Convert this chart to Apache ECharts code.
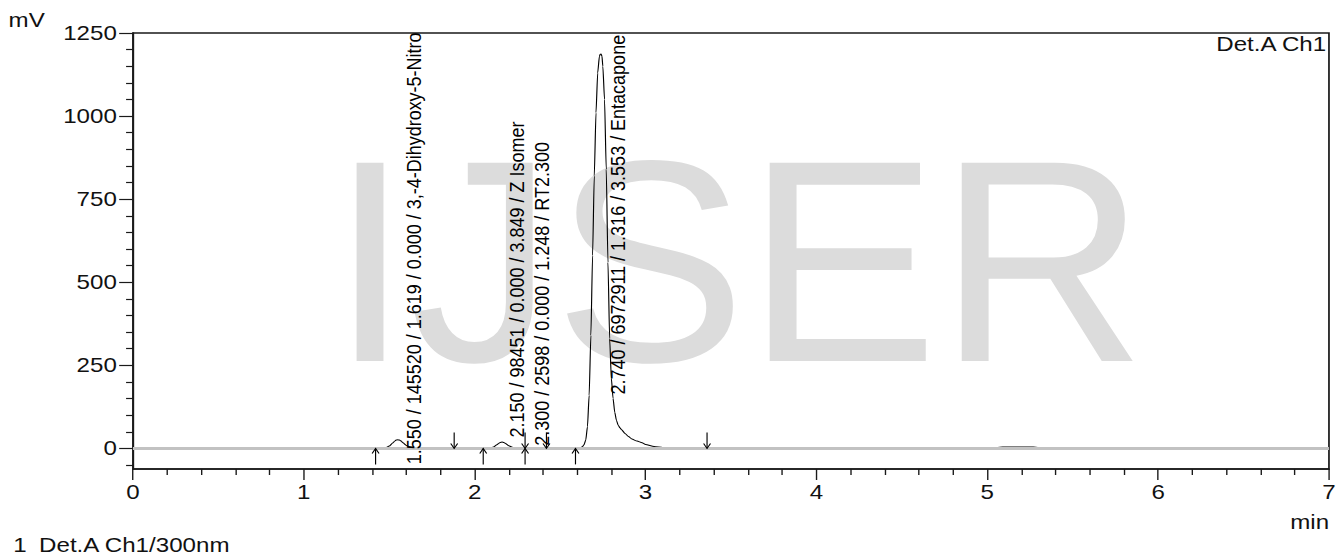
<!DOCTYPE html>
<html>
<head>
<meta charset="utf-8">
<script src="https://cdn.jsdelivr.net/npm/echarts@6.0.0/dist/echarts.min.js"></script>
<style>
html,body{margin:0;padding:0;background:#fff;overflow:hidden;}
#c{width:1166px;height:558px;transform:scaleX(1.149228);transform-origin:0 0;}
</style>
</head>
<body>
<div id="c"></div>
<script>
// ---- data ----
const retentionTimes = [0, 1.40, 1.43, 1.46, 1.48, 1.50, 1.52, 1.53, 1.54, 1.55, 1.56, 1.57, 1.58, 1.60, 1.62, 1.64, 1.67, 1.70,
  2.00, 2.06, 2.09, 2.11, 2.13, 2.14, 2.15, 2.16, 2.17, 2.18, 2.20, 2.22, 2.25, 2.28, 2.29, 2.30, 2.31, 2.33, 2.36, 2.50, 2.58,
  2.60, 2.62, 2.63, 2.64, 2.65, 2.66, 2.67, 2.68, 2.69, 2.70, 2.71, 2.72, 2.73, 2.735, 2.74, 2.745, 2.75, 2.76, 2.77, 2.78,
  2.79, 2.80, 2.81, 2.82, 2.83, 2.84, 2.85, 2.86, 2.88, 2.90, 2.92, 2.95, 2.98, 3.00, 3.05, 3.10, 3.20, 3.36, 3.50,
  5.00, 5.09, 5.27, 5.35, 7.00];
const signalMv = [0, 0, 0, 0.5, 2, 7, 16, 21, 25, 26, 25, 22, 17, 9, 4, 1.5, 0.5, 0,
  0, 0, 1, 4, 11, 15, 18, 19, 18, 15, 8, 3.5, 1, 0.5, 1, 3, 2, 0.5, 0, 0, 0,
  0.5, 2, 5, 11, 25, 65, 160, 340, 580, 820, 1010, 1130, 1180, 1186, 1187, 1180, 1150, 1050, 840, 560,
  330, 210, 150, 108, 84, 70, 62, 56, 45, 36, 28, 22, 17, 12, 6, 3, 1.5, 0.5, 0,
  0, 4, 4, 0, 0];

const peakTimes = [1.550, 2.150, 2.300, 2.740];
const peakLabels = [
  '1.550 / 145520 / 1.619 / 0.000 / 3,-4-Dihydroxy-5-Nitro',
  '2.150 / 98451 / 0.000 / 3.849 / Z Isomer',
  '2.300 / 2598 / 0.000 / 1.248 / RT2.300',
  '2.740 / 6972911 / 1.316 / 3.553 / Entacapone'
];
const labelStartMv = [-48, 33, 8, 162];

const arrowUpTimes = [1.42, 2.05, 2.295, 2.59];
const arrowDownTimes = [1.88, 2.295, 2.42, 3.36];
const baselineStart = [1.42, 2.05, 2.295, 2.59];
const baselineEnd = [1.88, 2.295, 2.42, 3.36];

const yMajorTicks = [0, 250, 500, 750, 1000, 1250];
const yMinorTicks = [-50, 50, 100, 150, 200, 300, 350, 400, 450, 550, 600, 650, 700, 800, 850, 900, 950, 1050, 1100, 1150, 1200];
const xMin = 0, xMax = 7, xInterval = 1;
const yMin = -62, yMax = 1250;

const yUnit = 'mV';
const xUnit = 'min';
const channelTag = 'Det.A Ch1';
const legendIndex = '1';
const legendText = 'Det.A Ch1/300nm';
const watermarkText = 'IJSER';

// ---- chart ----
const S = 1340 / 1166;
const FF = '"Liberation Sans", Arial, Helvetica, sans-serif';
const INK = '#111';
const chart = echarts.init(document.getElementById('c'), null, {renderer: 'svg', width: 1166, height: 558});

const signalData = retentionTimes.map((t, i) => [t, signalMv[i]]);
const arrowData = arrowUpTimes.map(t => [t, 1]).concat(arrowDownTimes.map(t => [t, -1]));
const segData = baselineStart.map((s, i) => [s, baselineEnd[i]]);
const labelData = peakTimes.map((t, i) => [t, labelStartMv[i], i]);

function txt(x, y, text, align, size) {
  return {type: 'text', x: x, y: y, z: 10, silent: true,
    style: {text: text, font: size + 'px ' + FF, fill: INK, align: align, verticalAlign: 'middle'}};
}

const option = {
  animation: false,
  backgroundColor: '#ffffff',
  grid: {left: 115.7, right: 9.6, top: 33, bottom: 89, show: true, borderColor: '#1a1a1a', borderWidth: 1.5, backgroundColor: 'transparent'},
  xAxis: {
    type: 'value', min: xMin, max: xMax, interval: xInterval,
    axisLine: {onZero: false, lineStyle: {color: '#1a1a1a', width: 1.5}},
    axisTick: {length: 11, lineStyle: {color: '#1a1a1a', width: 1.2}},
    minorTick: {show: true, splitNumber: 5, length: 6, lineStyle: {color: '#1a1a1a', width: 1.2}},
    axisLabel: {margin: 13, fontSize: 21, fontFamily: FF, color: INK, formatter: v => String(v)},
    splitLine: {show: false}, minorSplitLine: {show: false}
  },
  yAxis: [{
    type: 'value', min: yMin, max: yMax,
    axisLine: {show: true, onZero: false, lineStyle: {color: '#1a1a1a', width: 1.5}},
    axisTick: {show: true, customValues: yMajorTicks, length: 12, lineStyle: {color: '#1a1a1a', width: 1.2}},
    axisLabel: {customValues: yMajorTicks, margin: 14, fontSize: 21, fontFamily: FF, color: INK, formatter: v => String(v)},
    splitLine: {show: false}
  }, {
    type: 'value', min: yMin, max: yMax, position: 'left',
    axisLine: {show: false},
    axisTick: {show: true, customValues: yMinorTicks, length: 6, lineStyle: {color: '#1a1a1a', width: 1.2}},
    axisLabel: {show: false},
    splitLine: {show: false}
  }],
  graphic: [
    {type: 'text', x: 642.2, y: 261, scaleX: 1 / S, z: -10, silent: true,
      style: {text: watermarkText, font: '288px ' + FF, fill: '#dcdcdc', align: 'center', verticalAlign: 'middle'}},
    txt(7.5, 20, yUnit, 'left', 21),
    txt(1154, 44, channelTag, 'right', 21),
    txt(1156.5, 522, xUnit, 'right', 21),
    txt(11.5, 545, legendIndex, 'left', 21),
    txt(34, 545, legendText, 'left', 21)
  ],
  series: [
    {
      name: 'signal', type: 'line', z: 2, data: signalData, showSymbol: false, smooth: 0.2, smoothMonotone: 'x',
      lineStyle: {color: '#000', width: 1}, silent: true
    },
    {
      name: 'zero', type: 'line', z: 3, data: [], silent: true,
      markLine: {silent: true, symbol: 'none', label: {show: false}, animation: false,
        lineStyle: {color: '#c2c2c2', width: 3, type: 'solid'}, data: [{yAxis: 0}]}
    },
    {
      name: 'baselines', type: 'custom', z: 4, data: segData, clip: false, silent: true,
      renderItem: function (params, api) {
        const a = api.coord([api.value(0), 0]);
        const b = api.coord([api.value(1), 0]);
        return {type: 'line', shape: {x1: a[0], y1: a[1] - 0.5, x2: b[0], y2: b[1] - 0.5}, style: {stroke: '#000', lineWidth: 1}};
      }
    },
    {
      name: 'arrows', type: 'custom', z: 5, data: arrowData, clip: false, silent: true,
      renderItem: function (params, api) {
        const p = api.coord([api.value(0), 0]);
        const d = api.value(1) > 0 ? 1 : -1;
        const L = 16, h = 5, w = 3;
        return {type: 'group', children: [
          {type: 'line', shape: {x1: p[0], y1: p[1] + d * L, x2: p[0], y2: p[1]}, style: {stroke: '#000', lineWidth: 1}},
          {type: 'polyline', shape: {points: [[p[0] - w, p[1] + d * h], [p[0], p[1]], [p[0] + w, p[1] + d * h]]}, style: {stroke: '#000', fill: null, lineWidth: 1}}
        ]};
      }
    },
    {
      name: 'peakLabels', type: 'custom', z: 6, data: labelData, clip: false, silent: true,
      renderItem: function (params, api) {
        const p = api.coord([api.value(0), api.value(1)]);
        return {type: 'text', x: p[0] + 14, y: p[1], rotation: Math.PI / 2,
          style: {text: peakLabels[api.value(2)], font: '18px ' + FF, fill: '#000', align: 'left', verticalAlign: 'middle'}};
      }
    }
  ]
};
chart.setOption(option);
</script>
</body>
</html>
